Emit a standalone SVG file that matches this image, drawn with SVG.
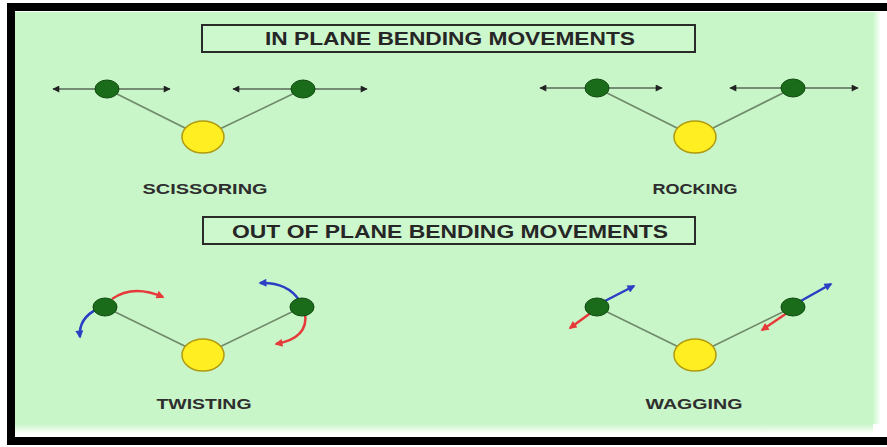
<svg xmlns="http://www.w3.org/2000/svg" width="887" height="447" viewBox="0 0 887 447">
<style>
.bg{fill:#c9f6c9}
.frame{fill:#000}
.title-box{fill:#cdf7cd;stroke:#2a2a2a;stroke-width:2}
.title{font-family:"Liberation Sans",Arial,sans-serif;font-weight:bold;font-size:18px;fill:#262626}
.label{font-family:"Liberation Sans",Arial,sans-serif;font-weight:bold;font-size:15px;fill:#2e2e2e}
.atom{fill:#1a6b1a;stroke:#0f4a0f;stroke-width:1}
.center{fill:#ffee22;stroke:#b09a10;stroke-width:1.5}
.bond{stroke:#6f8a6a;stroke-width:1.6;fill:none}
.mv{stroke:#222;stroke-width:1.1;fill:none}
.red{stroke:#e63a3a;stroke-width:2.5;fill:none}
.blue{stroke:#2a3fc4;stroke-width:2.5;fill:none}
</style>
<defs>
<marker id="ah" viewBox="0 0 10 10" refX="9" refY="5" markerWidth="9" markerHeight="7" markerUnits="userSpaceOnUse" orient="auto-start-reverse"><path d="M0,0 L10,5 L0,10 Z" fill="#222"/></marker>
<marker id="ahr" viewBox="0 0 10 10" refX="8" refY="5" markerWidth="9" markerHeight="8" markerUnits="userSpaceOnUse" orient="auto"><path d="M0,0 L10,5 L0,10 Z" fill="#e63a3a"/></marker>
<marker id="ahb" viewBox="0 0 10 10" refX="8" refY="5" markerWidth="9" markerHeight="8" markerUnits="userSpaceOnUse" orient="auto"><path d="M0,0 L10,5 L0,10 Z" fill="#2a3fc4"/></marker>
<linearGradient id="fadeB" x1="0" y1="0" x2="0" y2="1"><stop offset="0" stop-color="#c9f6c9"/><stop offset="1" stop-color="#ffffff"/></linearGradient>
<linearGradient id="fadeR" x1="0" y1="0" x2="1" y2="0"><stop offset="0" stop-color="#c9f6c9"/><stop offset="1" stop-color="#ffffff"/></linearGradient>
</defs>
<rect x="0" y="0" width="887" height="447" fill="#fff"/>
<rect class="bg" x="15" y="12" width="858" height="412"/>
<rect x="15" y="424" width="858" height="10" fill="url(#fadeB)"/>
<rect x="873" y="12" width="8" height="412" fill="url(#fadeR)"/>
<rect class="frame" x="7" y="3" width="880" height="8"/>
<rect class="frame" x="7" y="3" width="8" height="442"/>
<rect class="frame" x="7" y="437" width="880" height="8"/>

<g id="title-in-plane">
<rect class="title-box" x="202" y="25" width="493" height="27"/>
<text class="title" x="450" y="45" text-anchor="middle" textLength="370" lengthAdjust="spacingAndGlyphs">IN PLANE BENDING MOVEMENTS</text>
</g>
<g id="title-out-of-plane">
<rect class="title-box" x="203" y="217" width="492" height="27"/>
<text class="title" x="450" y="238" text-anchor="middle" textLength="436" lengthAdjust="spacingAndGlyphs">OUT OF PLANE BENDING MOVEMENTS</text>
</g>

<g id="connectors">
<line class="bond" x1="107" y1="89" x2="203" y2="137"/>
<line class="bond" x1="303" y1="89" x2="203" y2="137"/>
<line class="bond" x1="597" y1="88" x2="695" y2="137"/>
<line class="bond" x1="793" y1="88" x2="695" y2="137"/>
<line class="bond" x1="105" y1="307" x2="203" y2="355"/>
<line class="bond" x1="302" y1="307" x2="203" y2="355"/>
<line class="bond" x1="597" y1="307" x2="695" y2="355"/>
<line class="bond" x1="793" y1="307" x2="695" y2="355"/>
</g>

<g id="scissoring">
<line class="mv" x1="53" y1="89" x2="170" y2="89" marker-start="url(#ah)" marker-end="url(#ah)"/>
<line class="mv" x1="233" y1="89" x2="367" y2="89" marker-start="url(#ah)" marker-end="url(#ah)"/>
<ellipse class="atom" cx="107" cy="89" rx="12" ry="9"/>
<ellipse class="atom" cx="303" cy="89" rx="12" ry="9"/>
<ellipse class="center" cx="203" cy="137" rx="21" ry="16"/>
<text class="label" x="205" y="194" text-anchor="middle" textLength="125" lengthAdjust="spacingAndGlyphs">SCISSORING</text>
</g>

<g id="rocking">
<line class="mv" x1="540" y1="88" x2="662" y2="88" marker-start="url(#ah)" marker-end="url(#ah)"/>
<line class="mv" x1="730" y1="88" x2="858" y2="88" marker-start="url(#ah)" marker-end="url(#ah)"/>
<ellipse class="atom" cx="597" cy="88" rx="12" ry="9"/>
<ellipse class="atom" cx="793" cy="88" rx="12" ry="9"/>
<ellipse class="center" cx="695" cy="137" rx="21" ry="16"/>
<text class="label" x="695" y="194" text-anchor="middle" textLength="85" lengthAdjust="spacingAndGlyphs">ROCKING</text>
</g>

<g id="twisting">
<path class="red" d="M112,299 Q133,284 163,297" marker-end="url(#ahr)"/>
<path class="blue" d="M99,308 Q78,318 80,337" marker-end="url(#ahb)"/>
<path class="blue" d="M299,300 Q287,282 260,283" marker-end="url(#ahb)"/>
<path class="red" d="M305,313 Q309,338 276,344" marker-end="url(#ahr)"/>
<ellipse class="atom" cx="105" cy="307" rx="12" ry="9"/>
<ellipse class="atom" cx="302" cy="307" rx="12" ry="9"/>
<ellipse class="center" cx="203" cy="355" rx="21" ry="16"/>
<text class="label" x="204" y="409" text-anchor="middle" textLength="95" lengthAdjust="spacingAndGlyphs">TWISTING</text>
</g>

<g id="wagging">
<line class="blue" x1="603" y1="302" x2="634" y2="286" marker-end="url(#ahb)"/>
<line class="red" x1="592" y1="312" x2="570" y2="328" marker-end="url(#ahr)"/>
<line class="blue" x1="799" y1="302" x2="831" y2="284" marker-end="url(#ahb)"/>
<line class="red" x1="787" y1="313" x2="762" y2="330" marker-end="url(#ahr)"/>
<ellipse class="atom" cx="597" cy="307" rx="12" ry="9"/>
<ellipse class="atom" cx="793" cy="307" rx="12" ry="9"/>
<ellipse class="center" cx="695" cy="355" rx="21" ry="16"/>
<text class="label" x="694" y="409" text-anchor="middle" textLength="97" lengthAdjust="spacingAndGlyphs">WAGGING</text>
</g>
</svg>
